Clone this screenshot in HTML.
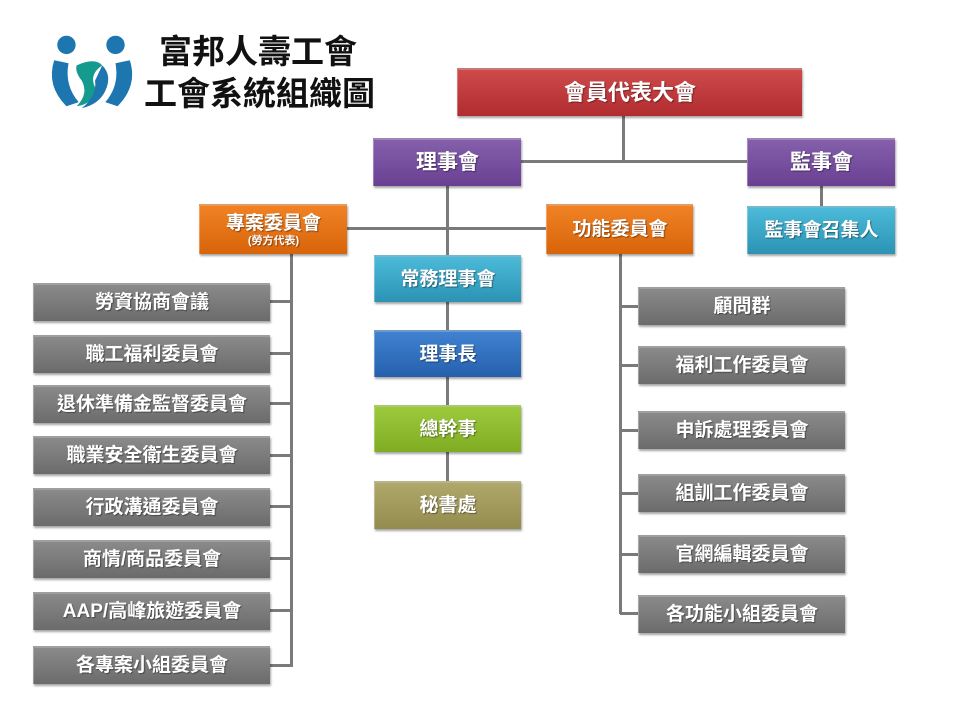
<!DOCTYPE html><html><head><meta charset="utf-8"><style>
body{margin:0;width:960px;height:720px;background:#fff;position:relative;overflow:hidden;font-family:"Liberation Sans","Noto Sans CJK TC",sans-serif}
.b{position:absolute;color:#fff;font-weight:bold;display:flex;align-items:center;justify-content:center;font-size:19px;box-sizing:border-box;border-top:2px solid rgba(255,255,255,.35);border-left:1px solid rgba(255,255,255,.3);box-shadow:1px 2px 2px rgba(0,0,0,.35);text-shadow:1px 1px 1px rgba(0,0,0,.4);flex-direction:column;line-height:1.15}
.l{position:absolute;background:#7a7a7a}
.g{background:linear-gradient(#8a8a8a,#6b6b6b);left:33px;width:237px;height:38px}
.r{background:linear-gradient(#8a8a8a,#6b6b6b);left:638px;width:207px;height:38px}
.t{position:absolute;font-weight:bold;font-size:33px;color:#111;line-height:1}
</style></head><body>
<svg style="position:absolute;left:46px;top:33px" width="92" height="80" viewBox="0 0 90 75">
<circle cx="20" cy="10" r="9" fill="#1d76b0"/><circle cx="68" cy="10" r="9" fill="#1d76b0"/>
<path d="M8 25 Q0 50 20 70 L32 66 Q18 50 22 28 Z" fill="#1d76b0"/>
<path d="M82 25 Q90 50 70 70 L58 66 Q72 50 68 28 Z" fill="#1d76b0"/>
<path d="M30 30 Q48 22 55 30 Q40 40 50 55 Q45 68 30 70 Q42 58 35 45 Q28 36 30 30Z" fill="#159a8e"/>
<path d="M55 30 Q65 40 58 55 Q52 68 35 72 Q50 60 48 45 Z" fill="#1d76b0"/>
</svg>
<div class="t" style="left:159px;top:35px">富邦人壽工會</div>
<div class="t" style="left:144px;top:77px">工會系統組織圖</div>

<div class="l" style="left:622px;top:116px;width:3px;height:47px"></div>
<div class="l" style="left:521px;top:160px;width:226px;height:3px"></div>
<div class="l" style="left:820px;top:186px;width:3px;height:20px"></div>
<div class="l" style="left:446px;top:186px;width:3px;height:300px"></div>
<div class="l" style="left:347px;top:227px;width:199px;height:3px"></div>
<div class="l" style="left:290px;top:254px;width:3px;height:413px"></div>
<div class="l" style="left:619px;top:254px;width:3px;height:360px"></div>
<div class="l" style="left:270px;top:300px;width:22px;height:3px"></div>
<div class="l" style="left:270px;top:352px;width:22px;height:3px"></div>
<div class="l" style="left:270px;top:402px;width:22px;height:3px"></div>
<div class="l" style="left:270px;top:454px;width:22px;height:3px"></div>
<div class="l" style="left:270px;top:505px;width:22px;height:3px"></div>
<div class="l" style="left:270px;top:557px;width:22px;height:3px"></div>
<div class="l" style="left:270px;top:609px;width:22px;height:3px"></div>
<div class="l" style="left:270px;top:664px;width:22px;height:3px"></div>
<div class="l" style="left:620px;top:305px;width:18px;height:3px"></div>
<div class="l" style="left:620px;top:364px;width:18px;height:3px"></div>
<div class="l" style="left:620px;top:429px;width:18px;height:3px"></div>
<div class="l" style="left:620px;top:492px;width:18px;height:3px"></div>
<div class="l" style="left:620px;top:553px;width:18px;height:3px"></div>
<div class="l" style="left:620px;top:612px;width:18px;height:3px"></div>

<div class="b" style="left:457px;top:68px;width:345px;height:48px;background:linear-gradient(#cf4a4a,#b02c30);font-size:22px">會員代表大會</div>
<div class="b" style="left:373px;top:138px;width:148px;height:48px;background:linear-gradient(#8460ab,#6a3f93);font-size:21px">理事會</div>
<div class="b" style="left:747px;top:138px;width:148px;height:48px;background:linear-gradient(#8460ab,#6a3f93);font-size:21px">監事會</div>
<div class="b" style="left:747px;top:206px;width:148px;height:48px;background:linear-gradient(#4cbad8,#2b93b4)">監事會召集人</div>
<div class="b" style="left:199px;top:204px;width:148px;height:50px;background:linear-gradient(#f08224,#d8640a)"><span>專案委員會</span><span style="font-size:11px">(勞方代表)</span></div>
<div class="b" style="left:546px;top:204px;width:147px;height:50px;background:linear-gradient(#f08224,#d8640a)">功能委員會</div>
<div class="b" style="left:374px;top:255px;width:147px;height:47px;background:linear-gradient(#4cbad8,#2b93b4)">常務理事會</div>
<div class="b" style="left:374px;top:330px;width:147px;height:47px;background:linear-gradient(#3f82d0,#2660ad)">理事長</div>
<div class="b" style="left:374px;top:405px;width:147px;height:47px;background:linear-gradient(#9dc93d,#7fac22)">總幹事</div>
<div class="b" style="left:374px;top:481px;width:147px;height:48px;background:linear-gradient(#b0a86a,#948b4e)">秘書處</div>

<div class="b g" style="top:283px">勞資協商會議</div>
<div class="b g" style="top:335px">職工福利委員會</div>
<div class="b g" style="top:385px">退休準備金監督委員會</div>
<div class="b g" style="top:436px">職業安全衛生委員會</div>
<div class="b g" style="top:488px">行政溝通委員會</div>
<div class="b g" style="top:540px">商情/商品委員會</div>
<div class="b g" style="top:592px">AAP/高峰旅遊委員會</div>
<div class="b g" style="top:646px">各專案小組委員會</div>

<div class="b r" style="top:287px">顧問群</div>
<div class="b r" style="top:346px">福利工作委員會</div>
<div class="b r" style="top:411px">申訴處理委員會</div>
<div class="b r" style="top:474px">組訓工作委員會</div>
<div class="b r" style="top:535px">官網編輯委員會</div>
<div class="b r" style="top:595px">各功能小組委員會</div>
</body></html>
